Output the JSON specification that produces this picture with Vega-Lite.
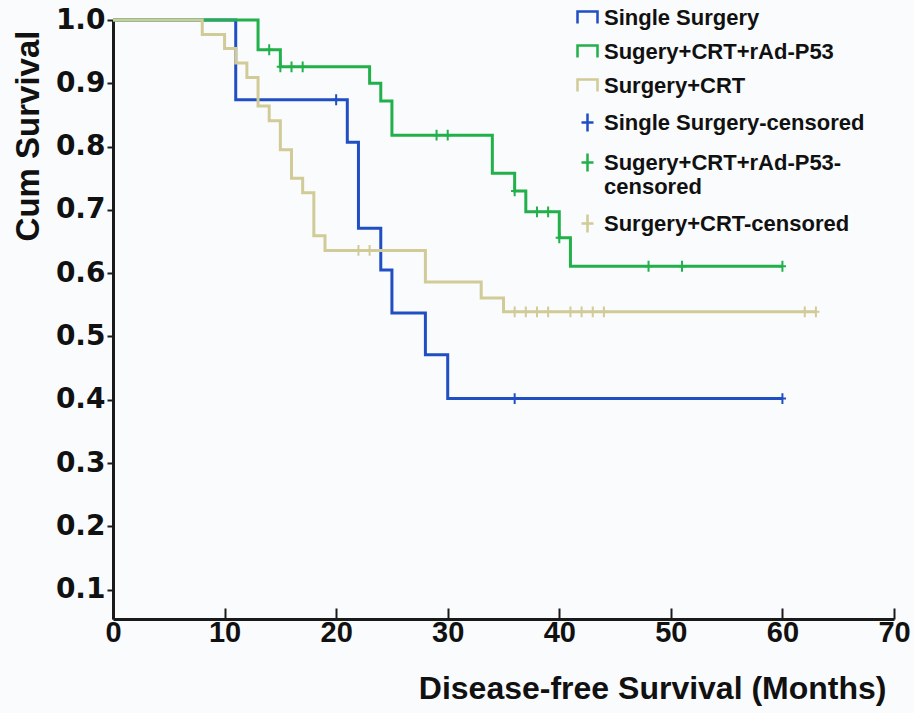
{
  "$schema": "https://vega.github.io/schema/vega-lite/v6.json",
  "width": 781,
  "height": 599,
  "autosize": {"type": "none"},
  "padding": {"left": 113, "top": 20, "right": 20, "bottom": 94},
  "background": "#fafbfd",
  "config": {
    "view": {"stroke": null},
    "axis": {"domainColor": "#1a1a1a", "tickColor": "#1a1a1a", "labelColor": "#111", "titleColor": "#111", "grid": false},
    "style": {"guide-label": {"lineHeight": 24}}
  },
  "datasets": {
    "curves": [
      {"g": "Single Surgery", "t": 0, "s": 1.0},
      {"g": "Single Surgery", "t": 11, "s": 0.874},
      {"g": "Single Surgery", "t": 21, "s": 0.807},
      {"g": "Single Surgery", "t": 22, "s": 0.671},
      {"g": "Single Surgery", "t": 24, "s": 0.605},
      {"g": "Single Surgery", "t": 25, "s": 0.537},
      {"g": "Single Surgery", "t": 28, "s": 0.471},
      {"g": "Single Surgery", "t": 30, "s": 0.402},
      {"g": "Single Surgery", "t": 60, "s": 0.402},
      {"g": "Sugery+CRT+rAd-P53", "t": 0, "s": 1.0},
      {"g": "Sugery+CRT+rAd-P53", "t": 13, "s": 0.953},
      {"g": "Sugery+CRT+rAd-P53", "t": 15, "s": 0.926},
      {"g": "Sugery+CRT+rAd-P53", "t": 23, "s": 0.9},
      {"g": "Sugery+CRT+rAd-P53", "t": 24, "s": 0.872},
      {"g": "Sugery+CRT+rAd-P53", "t": 25, "s": 0.818},
      {"g": "Sugery+CRT+rAd-P53", "t": 34, "s": 0.758},
      {"g": "Sugery+CRT+rAd-P53", "t": 36, "s": 0.73},
      {"g": "Sugery+CRT+rAd-P53", "t": 37, "s": 0.697},
      {"g": "Sugery+CRT+rAd-P53", "t": 40, "s": 0.656},
      {"g": "Sugery+CRT+rAd-P53", "t": 41, "s": 0.611},
      {"g": "Sugery+CRT+rAd-P53", "t": 60, "s": 0.611},
      {"g": "Surgery+CRT", "t": 0, "s": 1.0},
      {"g": "Surgery+CRT", "t": 8, "s": 0.977},
      {"g": "Surgery+CRT", "t": 10, "s": 0.955},
      {"g": "Surgery+CRT", "t": 11, "s": 0.932},
      {"g": "Surgery+CRT", "t": 12, "s": 0.909},
      {"g": "Surgery+CRT", "t": 13, "s": 0.864},
      {"g": "Surgery+CRT", "t": 14, "s": 0.841},
      {"g": "Surgery+CRT", "t": 15, "s": 0.795},
      {"g": "Surgery+CRT", "t": 16, "s": 0.75},
      {"g": "Surgery+CRT", "t": 17, "s": 0.727},
      {"g": "Surgery+CRT", "t": 18, "s": 0.659},
      {"g": "Surgery+CRT", "t": 19, "s": 0.636},
      {"g": "Surgery+CRT", "t": 28, "s": 0.586},
      {"g": "Surgery+CRT", "t": 33, "s": 0.561},
      {"g": "Surgery+CRT", "t": 35, "s": 0.539},
      {"g": "Surgery+CRT", "t": 63, "s": 0.539}
    ],
    "censored": [
      {"g": "Single Surgery-censored", "t": 20, "s": 0.874},
      {"g": "Single Surgery-censored", "t": 36, "s": 0.402},
      {"g": "Single Surgery-censored", "t": 60, "s": 0.402},
      {"g": "Sugery+CRT+rAd-P53-censored", "t": 14, "s": 0.953},
      {"g": "Sugery+CRT+rAd-P53-censored", "t": 15, "s": 0.926},
      {"g": "Sugery+CRT+rAd-P53-censored", "t": 16, "s": 0.926},
      {"g": "Sugery+CRT+rAd-P53-censored", "t": 17, "s": 0.926},
      {"g": "Sugery+CRT+rAd-P53-censored", "t": 29, "s": 0.818},
      {"g": "Sugery+CRT+rAd-P53-censored", "t": 30, "s": 0.818},
      {"g": "Sugery+CRT+rAd-P53-censored", "t": 36, "s": 0.73},
      {"g": "Sugery+CRT+rAd-P53-censored", "t": 38, "s": 0.697},
      {"g": "Sugery+CRT+rAd-P53-censored", "t": 39, "s": 0.697},
      {"g": "Sugery+CRT+rAd-P53-censored", "t": 40, "s": 0.656},
      {"g": "Sugery+CRT+rAd-P53-censored", "t": 48, "s": 0.611},
      {"g": "Sugery+CRT+rAd-P53-censored", "t": 51, "s": 0.611},
      {"g": "Sugery+CRT+rAd-P53-censored", "t": 60, "s": 0.611},
      {"g": "Surgery+CRT-censored", "t": 22, "s": 0.636},
      {"g": "Surgery+CRT-censored", "t": 23, "s": 0.636},
      {"g": "Surgery+CRT-censored", "t": 36, "s": 0.539},
      {"g": "Surgery+CRT-censored", "t": 37, "s": 0.539},
      {"g": "Surgery+CRT-censored", "t": 38, "s": 0.539},
      {"g": "Surgery+CRT-censored", "t": 39, "s": 0.539},
      {"g": "Surgery+CRT-censored", "t": 41, "s": 0.539},
      {"g": "Surgery+CRT-censored", "t": 42, "s": 0.539},
      {"g": "Surgery+CRT-censored", "t": 43, "s": 0.539},
      {"g": "Surgery+CRT-censored", "t": 44, "s": 0.539},
      {"g": "Surgery+CRT-censored", "t": 62, "s": 0.539},
      {"g": "Surgery+CRT-censored", "t": 63, "s": 0.539}
    ]
  },
  "encoding": {
    "x": {
      "field": "t", "type": "quantitative",
      "scale": {"domain": [0, 70], "nice": false, "zero": false},
      "axis": {
        "values": [0, 10, 20, 30, 40, 50, 60, 70],
        "title": "Disease-free Survival (Months)",
        "titleFont": "Liberation Sans", "titleFontWeight": "bold", "titleFontSize": 32,
        "titleAnchor": "end", "titleX": 773, "titlePadding": 26,
        "labelFont": "Liberation Sans", "labelFontWeight": "bold", "labelFontSize": 29,
        "labelPadding": 10, "labelFlush": false,
        "tickSize": -11, "tickWidth": 2, "domainWidth": 3
      }
    },
    "y": {
      "field": "s", "type": "quantitative",
      "scale": {"domain": [0.0537, 1.0], "nice": false, "zero": false},
      "axis": {
        "values": [0.1, 0.2, 0.3, 0.4, 0.5, 0.6, 0.7, 0.8, 0.9, 1.0],
        "format": ".1f",
        "title": "Cum Survival",
        "titleFont": "Liberation Sans", "titleFontWeight": "bold", "titleFontSize": 33,
        "titleAnchor": "end", "titleY": 10, "titlePadding": 10,
        "labelFont": "DejaVu Sans", "labelFontWeight": "bold", "labelFontSize": 28,
        "labelPadding": 2, "labelFlush": false,
        "tickSize": 6, "tickWidth": 2, "domainWidth": 3
      }
    }
  },
  "layer": [
    {
      "data": {"name": "curves"},
      "mark": {"type": "line", "interpolate": "step-after", "strokeWidth": 3},
      "encoding": {
        "color": {
          "field": "g", "type": "nominal",
          "scale": {
            "domain": ["Single Surgery", "Sugery+CRT+rAd-P53", "Surgery+CRT", "Single Surgery-censored", "Sugery+CRT+rAd-P53-censored", "Surgery+CRT-censored"],
            "range": ["#1f4fc2", "#22b04a", "#d0cb97", "#1f4fc2", "#22b04a", "#d0cb97"]
          },
          "legend": {
            "title": null,
            "orient": "none", "legendX": 463, "legendY": -14,
            "labelFont": "Liberation Sans", "labelFontWeight": "bold", "labelFontSize": 22, "labelColor": "#111",
            "labelLimit": 400, "labelOffset": 5, "rowPadding": 11,
            "symbolSize": 400, "symbolStrokeWidth": 2.5,
            "labelExpr": "datum.label == 'Sugery+CRT+rAd-P53-censored' ? ['Sugery+CRT+rAd-P53-', 'censored'] : datum.label"
          }
        }
      }
    },
    {
      "data": {"name": "censored"},
      "mark": {"type": "point", "filled": false, "strokeWidth": 2, "size": 144, "opacity": 1},
      "encoding": {
        "color": {"field": "g", "type": "nominal"},
        "shape": {
          "field": "g", "type": "nominal",
          "scale": {
            "domain": ["Single Surgery", "Sugery+CRT+rAd-P53", "Surgery+CRT", "Single Surgery-censored", "Sugery+CRT+rAd-P53-censored", "Surgery+CRT-censored"],
            "range": ["M-1,0.6L-1,-0.6L1,-0.6L1,0.6", "M-1,0.6L-1,-0.6L1,-0.6L1,0.6", "M-1,0.6L-1,-0.6L1,-0.6L1,0.6", "M-0.6,0L0.6,0M0,-0.9L0,0.9", "M-0.6,0L0.6,0M0,-0.9L0,0.9", "M-0.6,0L0.6,0M0,-0.9L0,0.9"]
          },
          "legend": null
        }
      }
    }
  ]
}
